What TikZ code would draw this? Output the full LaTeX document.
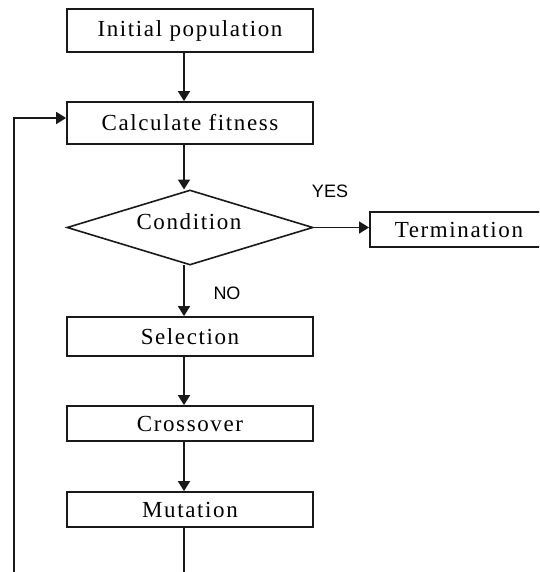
\documentclass[tikz,border=0pt]{standalone}
\usepackage{fontspec}
\setmainfont{Liberation Serif}[LetterSpace=7]
\newfontfamily\labelfont{Liberation Sans}
\usetikzlibrary{arrows.meta,shapes.geometric}
\tikzset{
  procbox/.style={draw=black!90, line width=1.8pt, rectangle, minimum width=246pt, minimum height=40pt, inner sep=0pt, font=\fontsize{23}{27}\selectfont},
  decision/.style={draw=black!90, line width=1.6pt, diamond, minimum width=246pt, minimum height=75pt, inner sep=0pt},
  condtext/.style={font=\fontsize{23}{27}\selectfont, inner sep=0pt},
  yesno/.style={font=\labelfont\fontsize{18}{21}\selectfont, inner sep=0pt},
  flow/.style={draw=black!90, line width=1.8pt, -{Triangle[length=10pt,width=12pt]}},
  plainline/.style={draw=black!90, line width=1.8pt}
}
\begin{document}
\begin{tikzpicture}[x=1pt,y=-1pt]
\useasboundingbox (0,0) rectangle (539,572);
\clip (0,0) rectangle (539,572);
\coordinate (spine) at (184,0);
\node[procbox, minimum height=43pt] (init) at (190,30.5) {Initial population};
\node[procbox, minimum height=42pt] (calc) at (190,123) {Calculate fitness};
\node[decision] (cond) at (190,227.5) {};
\node[condtext] (condlbl) at (189,222) {Condition};
\node[procbox, minimum width=172pt, minimum height=35pt, anchor=west] (term) at (369,229.5) {\hspace*{6pt}Termination\hfill};
\node[procbox, minimum height=39pt] (sel) at (190,336.5) {Selection};
\node[procbox, minimum height=35pt] (cross) at (190,423.5) {Crossover};
\node[procbox, minimum height=35pt] (mut) at (190,509.5) {Mutation};
\node[yesno] (yes) at (330,191) {YES};
\node[yesno] (no) at (227,293) {NO};
\coordinate (loopbot) at (14,585);
\coordinate (mutbot) at (184,585);
\coordinate (loopin) at (14,118);
\draw[flow] (init.south -| spine) -- (calc.north -| spine);
\draw[flow] (calc.south -| spine) -- (184,189.5);
\draw[flow] (cond.east) -- (term.west |- cond.east);
\draw[flow] (184,265) -- (sel.north -| spine);
\draw[flow] (sel.south -| spine) -- (cross.north -| spine);
\draw[flow] (cross.south -| spine) -- (mut.north -| spine);
\draw[plainline] (mut.south -| spine) -- (mutbot);
\draw[flow] (loopbot) -- (loopin) -- (calc.west |- loopin);
\end{tikzpicture}
\end{document}
